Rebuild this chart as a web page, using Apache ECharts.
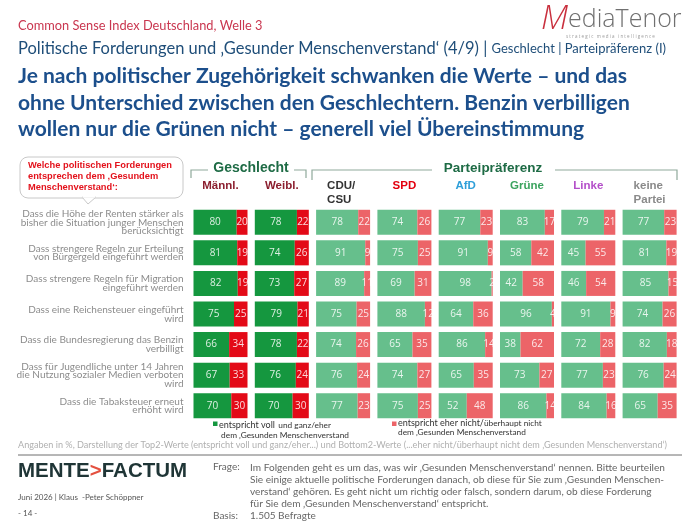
<!DOCTYPE html>
<html>
<head>
<meta charset="utf-8">
<script src="https://cdn.jsdelivr.net/npm/echarts@6/dist/echarts.min.js"></script>
<style>
  html, body { margin: 0; padding: 0; background: #fff; }
  #container { width: 700px; height: 525px; }
</style>
</head>
<body>
<div id="container"></div>
<script>
var dom = document.getElementById("container");
var myChart = echarts.init(dom);

// questions (rows, top to bottom)
var questions = [
    'Dass die Höhe der Renten stärker als\nbisher die Situation junger Menschen\nberücksichtigt',
    'Dass strengere Regeln zur Erteilung\nvon Bürgergeld eingeführt werden',
    'Dass strengere Regeln für Migration\neingeführt werden',
    'Dass eine Reichensteuer eingeführt\nwird',
    'Dass die Bundesregierung das Benzin\nverbilligt',
    'Dass für Jugendliche unter 14 Jahren\ndie Nutzung sozialer Medien verboten\nwird',
    'Dass die Tabaksteuer erneut\nerhöht wird'
];

// columns
var groups = ['Männl.', 'Weibl.', 'CDU/\nCSU', 'SPD', 'AfD', 'Grüne', 'Linke', 'keine\nPartei'];
var groupColors = ['#8b1e2e', '#8b1e2e', '#333333', '#e3000f', '#2e9fd9', '#3ba35e', '#b44fc9', '#8a8a8a'];

// Top2: entspricht voll und ganz/eher
var top2 = [
    [80, 81, 82, 75, 66, 67, 70],   // Männl.
    [78, 74, 73, 79, 78, 76, 70],   // Weibl.
    [78, 91, 89, 75, 74, 76, 77],   // CDU/CSU
    [74, 75, 69, 88, 65, 74, 75],   // SPD
    [77, 91, 98, 64, 86, 65, 52],   // AfD
    [83, 58, 42, 96, 38, 73, 86],   // Grüne
    [79, 45, 46, 91, 72, 77, 84],   // Linke
    [77, 81, 85, 74, 82, 76, 65]    // keine Partei
];
// Bottom2: entspricht eher nicht/überhaupt nicht
var bottom2 = [
    [20, 19, 19, 25, 34, 33, 30],
    [22, 26, 27, 21, 22, 24, 30],
    [22, 9, 11, 25, 26, 24, 23],
    [26, 25, 31, 12, 35, 27, 25],
    [23, 9, 2, 36, 14, 35, 48],
    [17, 42, 58, 4, 62, 27, 14],
    [21, 55, 54, 9, 28, 23, 16],
    [23, 19, 15, 26, 18, 24, 35]
];

var colStart = 193.5, colStep = 61.3, colWidth = 54;
var gridTop = 207, gridHeight = 214;

var grids = [], xAxes = [], yAxes = [], series = [];
groups.forEach(function (g, i) {
    var dark = i < 2;
    grids.push({ left: colStart + i * colStep, top: gridTop, width: colWidth, height: gridHeight });
    xAxes.push({ gridIndex: i, type: 'value', min: 0, max: 100, show: false });
    yAxes.push({
        gridIndex: i,
        type: 'category',
        inverse: true,
        data: questions,
        axisLine: { show: false },
        axisTick: { show: false },
        axisLabel: {
            show: i === 0,
            margin: 10,
            color: '#8c8c8c',
            fontFamily: 'Lato',
            fontSize: 10,
            lineHeight: 8.6,
            align: 'right'
        }
    });
    var lbl = {
        show: true,
        position: 'inside',
        color: 'rgba(255,255,255,0.85)',
        fontFamily: 'Open Sans',
        fontSize: 10,
        formatter: '{c}'
    };
    series.push({
        name: 'entspricht voll und ganz/eher',
        type: 'bar',
        stack: 's' + i,
        xAxisIndex: i,
        yAxisIndex: i,
        barWidth: 25,
        itemStyle: { color: dark ? '#15973f' : '#66bf8c' },
        label: lbl,
        data: top2[i]
    });
    series.push({
        name: 'entspricht eher nicht/überhaupt nicht',
        type: 'bar',
        stack: 's' + i,
        xAxisIndex: i,
        yAxisIndex: i,
        barWidth: 25,
        itemStyle: { color: dark ? '#e30a17' : '#ec6468' },
        label: lbl,
        data: bottom2[i]
    });
});

// column headers
var headers = [];
groups.forEach(function (g, i) {
    var cx = colStart + i * colStep + colWidth / 2;
    var multi = g.indexOf('\n') >= 0;
    headers.push({
        type: 'text',
        x: multi ? cx - 16 : cx,
        y: 179,
        style: {
            text: g,
            fill: groupColors[i],
            font: 'bold 11.5px "Liberation Sans"',
            textAlign: multi ? 'left' : 'center',
            textVerticalAlign: 'top',
            lineHeight: 14
        }
    });
});

var bracket = '#8fa99b';
var graphics = [
    // title block
    { type: 'text', left: 18, top: 19, style: { text: 'Common Sense Index Deutschland, Welle 3', fill: '#c9364f', font: '12.8px Lato' } },
    { type: 'text', left: 18, top: 40, style: {
        text: '{a|Politische Forderungen und ‚Gesunder Menschenverstand‘ (4/9) | }{b|Geschlecht | Parteipräferenz (I)}',
        rich: {
            a: { fill: '#1f4e79', font: '16.5px Lato' },
            b: { fill: '#1f4e79', font: '13px Lato' }
        }
    } },
    { type: 'text', left: 18, top: 63, style: {
        text: 'Je nach politischer Zugehörigkeit schwanken die Werte – und das\nohne Unterschied zwischen den Geschlechtern. Benzin verbilligen\nwollen nur die Grünen nicht – generell viel Übereinstimmung',
        fill: '#1c4f8c', font: 'bold 21px Lato', lineHeight: 26.5
    } },
    // MediaTenor logo
    { type: 'text', left: 541, top: 3, style: {
        text: '{m|M}{e|ediaTenor}',
        rich: {
            m: { fill: '#c9303e', font: 'italic 300 33px "Open Sans"' },
            e: { fill: '#707070', font: '300 25px "Open Sans"' }
        }
    } },
    { type: 'text', left: 566, top: 34, style: { text: 's t r a t e g i c   m e d i a   i n t e l l i g e n c e', fill: '#9a9a9a', font: '4.5px "Open Sans"' } },

    // callout
    { type: 'rect', shape: { x: 20, y: 157, width: 163, height: 41, r: 8 }, style: { fill: '#fff', stroke: '#c8c8c8', lineWidth: 1 } },
    { type: 'polygon', shape: { points: [[82, 197], [88, 204], [96, 197]] }, style: { fill: '#fff', stroke: '#c8c8c8', lineWidth: 1 } },
    { type: 'rect', shape: { x: 82.5, y: 196, width: 13, height: 1.6 }, style: { fill: '#fff' } },
    { type: 'text', left: 28, top: 160, style: {
        text: 'Welche politischen Forderungen\nentsprechen dem ‚Gesundem\nMenschenverstand‘:',
        fill: '#e3111b', font: 'bold 9.3px "Liberation Sans"', lineHeight: 11
    } },

    // brackets
    { type: 'polyline', shape: { points: [[191, 178], [191, 170], [208, 170]] }, style: { stroke: bracket, lineWidth: 1.2, fill: null } },
    { type: 'polyline', shape: { points: [[294, 170], [306, 170], [306, 178]] }, style: { stroke: bracket, lineWidth: 1.2, fill: null } },
    { type: 'polyline', shape: { points: [[312, 180], [312, 170], [432, 170]] }, style: { stroke: bracket, lineWidth: 1.2, fill: null } },
    { type: 'polyline', shape: { points: [[555, 170], [677, 170], [677, 180]] }, style: { stroke: bracket, lineWidth: 1.2, fill: null } },
    { type: 'text', x: 251, y: 161, style: { text: 'Geschlecht', fill: '#1e6b45', font: 'bold 14px "Liberation Sans"', textAlign: 'center', textVerticalAlign: 'top' } },
    { type: 'text', x: 493, y: 161, style: { text: 'Parteipräferenz', fill: '#1e6b45', font: 'bold 13.5px "Liberation Sans"', textAlign: 'center', textVerticalAlign: 'top' } },

    // legend
    { type: 'rect', shape: { x: 213, y: 421.5, width: 4.5, height: 4.5 }, style: { fill: '#15973f' } },
    { type: 'text', left: 219, top: 419, style: {
        text: '{a|entspricht voll} {b|und ganz/eher}\n{b| dem ‚Gesunden Menschenverstand}',
        rich: { a: { fill: '#333', font: '9px Lato', lineHeight: 9 }, b: { fill: '#333', font: '8.3px Lato', lineHeight: 9 } }
    } },
    { type: 'rect', shape: { x: 392, y: 421.5, width: 4.5, height: 4.5 }, style: { fill: '#ec6468' } },
    { type: 'text', left: 398, top: 419, style: {
        text: '{a|entspricht eher nicht/}{b|überhaupt nicht}\n{b|dem ‚Gesunden Menschenverstand}',
        rich: { a: { fill: '#333', font: '9px Lato', lineHeight: 9 }, b: { fill: '#333', font: '8.3px Lato', lineHeight: 9 } }
    } },

    // footnote
    { type: 'text', left: 18, top: 441, style: {
        text: 'Angaben in %, Darstellung der Top2-Werte (entspricht voll und ganz/eher...) und Bottom2-Werte (...eher nicht/überhaupt nicht dem ‚Gesunden Menschenverstand‘)',
        fill: '#b0b0b0', font: '9.1px Lato'
    } },
    { type: 'line', shape: { x1: 18, y1: 455, x2: 682, y2: 455 }, style: { stroke: '#6f6f6f', lineWidth: 1 } },

    // Mente Factum
    { type: 'text', left: 18, top: 461, style: {
        text: '{a|MENTE}{b|>}{a|FACTUM}',
        rich: {
            a: { fill: '#1f3536', font: 'bold 20.5px "Liberation Sans"' },
            b: { fill: '#e4503f', font: 'bold 20.5px "Liberation Sans"' }
        }
    } },
    { type: 'text', left: 18, top: 493, style: { text: 'Juni 2026 | Klaus  -Peter Schöppner', fill: '#555', font: '8px Lato' } },
    { type: 'text', left: 18, top: 509, style: { text: '- 14 -', fill: '#555', font: '8px Lato' } },

    { type: 'text', left: 213, top: 462, style: { text: 'Frage:', fill: '#666', font: '10px Lato' } },
    { type: 'text', left: 250, top: 462, style: {
        text: 'Im Folgenden geht es um das, was wir ‚Gesunden Menschenverstand‘ nennen. Bitte beurteilen\nSie einige aktuelle politische Forderungen danach, ob diese für Sie zum ‚Gesunden Menschen-\nverstand‘ gehören. Es geht nicht um richtig oder falsch, sondern darum, ob diese Forderung\nfür Sie dem ‚Gesunden Menschenverstand‘ entspricht.',
        fill: '#666', font: '10.1px Lato', lineHeight: 11.8
    } },
    { type: 'text', left: 213, top: 511, style: { text: 'Basis:', fill: '#666', font: '10px Lato' } },
    { type: 'text', left: 250, top: 511, style: { text: '1.505 Befragte', fill: '#666', font: '10px Lato' } }
].concat(headers);

var option = {
    animation: false,
    grid: grids,
    xAxis: xAxes,
    yAxis: yAxes,
    series: series,
    graphic: graphics
};

myChart.setOption(option);
</script>
</body>
</html>
